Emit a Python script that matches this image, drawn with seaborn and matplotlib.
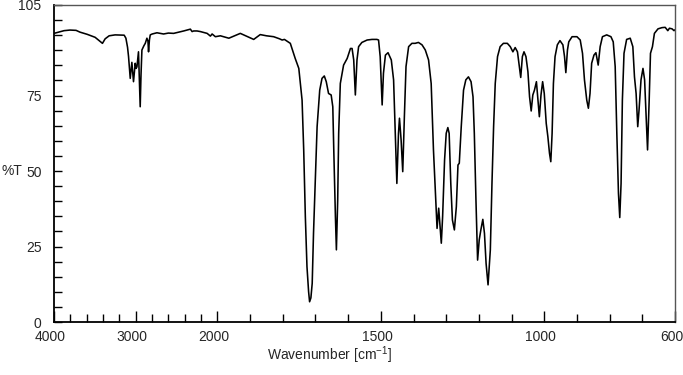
import numpy as np
import pandas as pd
import matplotlib
matplotlib.use("Agg")
import matplotlib.pyplot as plt
import matplotlib.transforms as mtransforms
from matplotlib.ticker import FixedLocator, NullFormatter, FixedFormatter
import seaborn as sns

# ---- data ----
wavenumber = [
    4000, 3877, 3804, 3730, 3681, 3595, 3497, 3407, 3374, 3325, 3252, 3141, 3120,
    3100, 3088, 3067, 3047, 3027, 3006, 2995, 2985, 2966, 2955, 2945, 2935, 2924,
    2900, 2883, 2863, 2850, 2843, 2832, 2822, 2798, 2740, 2659, 2600, 2536, 2413,
    2331, 2310, 2291, 2250, 2209, 2126, 2086, 2065, 2025, 1991, 1965, 1930, 1889,
    1869, 1850, 1828, 1810, 1802, 1795, 1777, 1762, 1751, 1741, 1736, 1731, 1726,
    1721, 1718, 1714, 1710, 1706, 1700, 1695, 1687, 1680, 1673, 1667, 1660, 1652,
    1647, 1644, 1639, 1636, 1632, 1629, 1624, 1614, 1603, 1593, 1588, 1583, 1578,
    1573, 1568, 1558, 1542, 1527, 1512, 1507, 1502, 1496, 1492, 1486, 1478, 1468,
    1461, 1456, 1451, 1446, 1443, 1438, 1433, 1428, 1423, 1415, 1405, 1395, 1385,
    1374, 1364, 1354, 1346, 1339, 1331, 1328, 1323, 1318, 1315, 1311, 1305, 1300,
    1295, 1291, 1286, 1281, 1275, 1269, 1264, 1260, 1254, 1247, 1240, 1232, 1224,
    1218, 1214, 1209, 1204, 1199, 1194, 1188, 1183, 1178, 1172, 1165, 1160, 1155,
    1150, 1143, 1135, 1125, 1113, 1104, 1096, 1089, 1082, 1077, 1072, 1067, 1062,
    1056, 1050, 1045, 1040, 1035, 1030, 1024, 1020, 1015, 1010, 1005, 1000, 994,
    989, 984, 980, 976, 972, 967, 960, 952, 943, 938, 934, 929, 925, 915, 900,
    890, 883, 877, 870, 865, 860, 855, 848, 842, 835, 829, 822, 809, 796, 789,
    783, 778, 773, 769, 765, 761, 756, 748, 737, 729, 724, 719, 714, 710, 704,
    698, 693, 688, 684, 679, 675, 669, 663, 652, 640, 630, 622, 617, 609, 603, 600,
]
transmittance = [
    95.6, 96.5, 96.7, 96.6, 96.0, 95.3, 94.3, 92.3, 93.8, 94.8, 95.1, 95.0, 94.0,
    91.0, 88.0, 80.7, 86.0, 79.6, 85.7, 84.0, 84.5, 89.5, 80.0, 71.3, 82.0, 90.1,
    91.5, 92.3, 94.0, 93.0, 89.5, 93.5, 95.1, 95.4, 95.8, 95.4, 95.7, 95.6, 96.4,
    97.0, 96.2, 96.4, 96.4, 96.2, 95.6, 94.7, 95.4, 94.5, 94.8, 94.0, 95.6, 93.6,
    95.2, 94.8, 94.5, 93.8, 93.4, 93.6, 92.3, 87.3, 84.0, 73.5, 57.0, 34.9, 18.3,
    10.0, 6.7, 8.0, 12.8, 29.4, 48.1, 64.7, 76.8, 80.7, 81.5, 79.6, 75.7, 75.2,
    71.3, 57.0, 34.9, 23.9, 40.4, 62.5, 79.0, 85.1, 87.3, 90.6, 90.6, 86.8, 75.2,
    86.8, 91.2, 92.6, 93.4, 93.6, 93.6, 93.4, 87.9, 71.9, 82.4, 88.4, 89.2, 86.8,
    80.2, 62.5, 45.9, 62.5, 67.5, 60.3, 49.8, 68.0, 84.6, 91.2, 92.3, 92.3, 92.6,
    91.8, 90.1, 86.8, 79.0, 57.0, 38.2, 31.0, 37.7, 30.5, 26.1, 34.9, 53.7, 62.5,
    64.4, 62.5, 45.9, 33.8, 30.5, 38.2, 52.0, 52.6, 64.7, 76.8, 80.2, 81.2, 79.6,
    74.6, 62.5, 40.4, 20.5, 27.2, 30.5, 34.0, 29.4, 19.4, 12.3, 23.9, 45.9, 64.7,
    79.0, 87.9, 91.2, 92.3, 92.3, 91.2, 89.5, 90.9, 89.5, 85.1, 81.0, 87.9, 89.5,
    87.9, 82.9, 74.6, 69.9, 75.2, 76.8, 79.6, 74.6, 68.0, 75.2, 79.6, 75.7, 65.8,
    61.4, 55.9, 53.1, 62.5, 79.0, 87.9, 91.8, 93.2, 91.8, 87.9, 82.6, 90.1, 92.8, 94.5, 94.5,
    93.4, 89.0, 80.2, 73.5, 70.8, 75.7, 85.7, 88.4, 89.2, 85.1, 91.2, 94.5, 95.1, 94.5, 92.8,
    84.6, 62.5, 42.6, 34.6, 45.9, 73.5, 89.0, 93.6, 94.0, 91.2, 81.2, 75.7, 64.7, 70.2, 80.2,
    84.0, 80.2, 66.9, 57.0, 73.5, 89.0, 91.2, 95.6, 97.1, 97.5, 97.6, 96.5, 97.3, 97.1, 96.5, 96.8,
]

x_major = [4000, 3000, 2000, 1500, 1000, 600]
x_major_labels = ["4000", "3000", "2000", "1500", "1000", "600"]
y_major = [0, 25, 50, 75, 105]
y_major_labels = ["0", "25", "50", "75", "105"]

df = pd.DataFrame({"wavenumber": wavenumber, "T": transmittance})

sns.set_theme(style="white")
plt.rcParams["font.family"] = ["Liberation Sans", "DejaVu Sans"]
plt.rcParams["mathtext.fontset"] = "custom"
plt.rcParams["mathtext.rm"] = "Liberation Sans"
plt.rcParams["mathtext.it"] = "Liberation Sans:italic"

fig = plt.figure(figsize=(6.83, 3.75), dpi=100)
ax = fig.add_axes([54 / 683, 1 - 322 / 375, 621 / 683, 317 / 375])

sns.lineplot(data=df, x="wavenumber", y="T", ax=ax, color="black",
             linewidth=1.15, sort=False, estimator=None)


def fwd(w):
    w = np.asarray(w, dtype=float)
    return np.where(w > 2000, 2000 + (w - 2000) / 4.0, w)


def inv(u):
    u = np.asarray(u, dtype=float)
    return np.where(u > 2000, 2000 + (u - 2000) * 4.0, u)


ax.set_xscale("function", functions=(fwd, inv))
ax.set_xlim(4000, 600)
ax.set_ylim(0, 105)

x_minor = list(range(3800, 2000, -200)) + list(range(1900, 600, -100))
x_minor = [v for v in x_minor if v not in x_major]
ax.xaxis.set_major_locator(FixedLocator(x_major))
ax.xaxis.set_major_formatter(FixedFormatter(x_major_labels))
ax.xaxis.set_minor_locator(FixedLocator(x_minor))
ax.xaxis.set_minor_formatter(NullFormatter())

y_minor = [v for v in range(5, 105, 5) if v not in y_major]
ax.yaxis.set_major_locator(FixedLocator(y_major))
ax.yaxis.set_major_formatter(FixedFormatter(y_major_labels))
ax.yaxis.set_minor_locator(FixedLocator(y_minor))
ax.yaxis.set_minor_formatter(NullFormatter())

ax.tick_params(axis="x", which="major", direction="in", length=8, width=1,
               color="black", labelsize=10, pad=6, bottom=True, top=False)
ax.tick_params(axis="x", which="minor", direction="in", length=5.5, width=1,
               color="black", bottom=True, top=False)
ax.tick_params(axis="y", which="major", direction="in", length=5.5, width=1,
               color="black", labelsize=10, pad=9, left=True, right=False)
ax.tick_params(axis="y", which="minor", direction="in", length=5.5, width=1,
               color="black", left=True, right=False)

# tick labels sit a few pixels left of their ticks in the reference
shift = mtransforms.ScaledTranslation(-3.5 / 100, 0, fig.dpi_scale_trans)
for lab in ax.get_xticklabels():
    lab.set_transform(lab.get_transform() + shift)

for side in ["left", "bottom"]:
    ax.spines[side].set_color("black")
    ax.spines[side].set_linewidth(1.3)
for side in ["top", "right"]:
    ax.spines[side].set_color("#555555")
    ax.spines[side].set_linewidth(1.0)

ax.set_xlabel("Wavenumber [cm$^{-1}$]", fontsize=10)
ax.xaxis.set_label_coords(0.443, -0.104)
ax.xaxis.label.set_va("center")
ax.set_ylabel("%T", fontsize=10, rotation=0)
ax.yaxis.set_label_coords(-0.084, 50 / 105)
ax.yaxis.label.set_ha("left")
ax.yaxis.label.set_va("center")

fig.savefig("out.png", dpi=100)
